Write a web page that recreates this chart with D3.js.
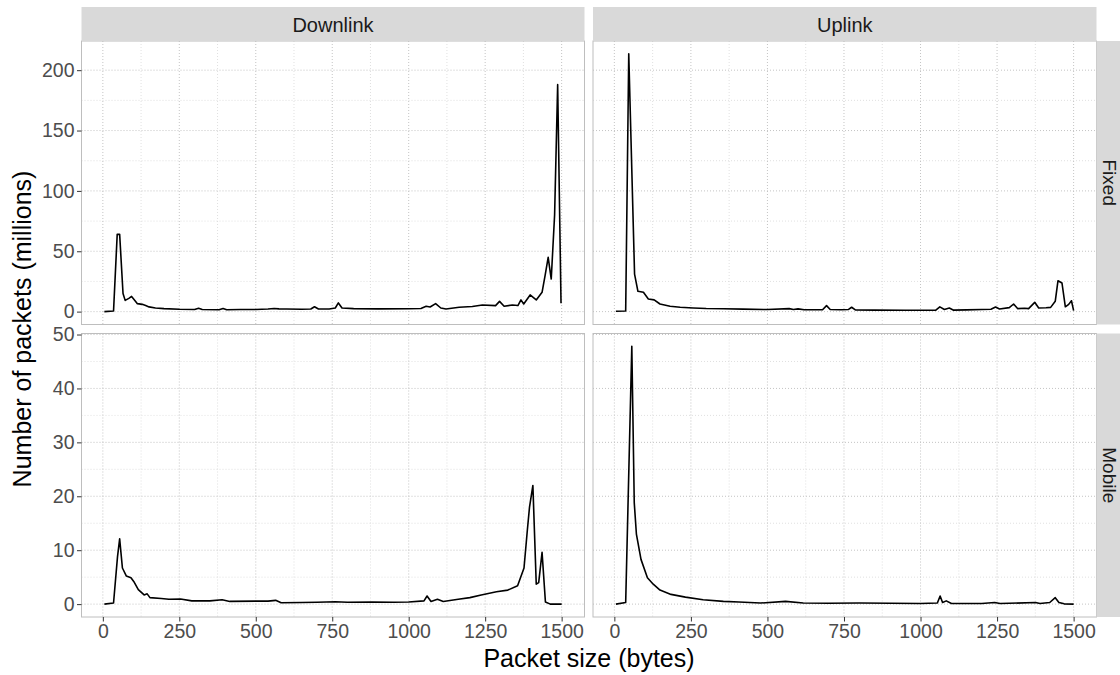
<!DOCTYPE html>
<html><head><meta charset="utf-8">
<script src="https://cdn.jsdelivr.net/npm/d3@7"></script>
<style>
body{margin:0;background:#fff}
text{font-family:"Liberation Sans", Arial, Helvetica, sans-serif}
</style>
</head><body>
<svg id="c" width="1120" height="675"></svg>
<script>
// ---------- data ----------
const directions = ["Downlink", "Uplink"];
const networks = ["Fixed", "Mobile"];
const xTicks = [0, 250, 500, 750, 1000, 1250, 1500];
const yTicksFixed = [0, 50, 100, 150, 200];
const yTicksMobile = [0, 10, 20, 30, 40, 50];
const xTitle = "Packet size (bytes)";
const yTitle = "Number of packets (millions)";

const dlFixedSize = [5,35,47,55,66,73,85,94,104,113,129,140,151,172,200,250,300,313,325,380,393,405,450,500,540,560,576,600,650,680,692,705,740,760,770,782,820,900,1000,1040,1057,1070,1088,1105,1122,1165,1208,1241,1284,1297,1312,1339,1357,1367,1376,1397,1417,1436,1446,1456,1466,1477,1487,1498];
const dlFixedPkts = [0,0.5,64,64,15,9.3,11,12.6,9.5,6.6,6,5,3.9,3,2.5,2,1.8,2.8,1.7,1.6,2.6,1.6,1.7,1.8,2.2,2.6,2.3,2.2,2.0,2.2,4,2.2,2.2,3,7.2,3,2.5,2.3,2.4,2.6,4.4,3.8,6.6,3,2.2,3.6,4.2,5.5,5,8.5,4.4,5.5,5,9.7,6.3,13.8,9.7,16,30,45,27,80,188,6.9];

const ulFixedSize = [5,37,47,66,77,95,111,130,149,182,215,258,300,356,420,500,571,585,600,620,680,693,705,740,765,775,787,850,950,1050,1063,1078,1094,1108,1150,1200,1230,1245,1258,1290,1304,1317,1340,1353,1373,1386,1410,1425,1440,1449,1462,1473,1484,1493,1500];
const ulFixedPkts = [0.3,0.5,213.5,31,16.8,16,10.5,9.7,6.3,4.4,3.6,3,2.6,2.4,2.1,1.7,2.5,1.8,2.3,1.5,1.6,5,1.8,1.6,1.8,3.6,1.4,1.2,1.1,1.2,3.9,1.8,3,1.2,1.4,1.8,2.0,3.8,2.2,3.3,6.3,2.5,2.8,2.5,7.7,3,3.2,3.5,8.5,25.6,23.7,4,6,9,0.8];

const dlMobileSize = [5,35,48,55,64,77,92,101,116,135,145,154,191,216,254,291,350,390,415,500,540,565,583,650,700,760,800,880,950,1000,1050,1060,1073,1094,1113,1162,1200,1237,1287,1324,1356,1377,1388,1395,1406,1417,1425,1436,1447,1463,1500];
const dlMobilePkts = [0,0.2,8.8,12.1,6.7,5.2,4.9,4.2,2.7,1.7,1.9,1.2,1.05,0.9,0.95,0.6,0.6,0.8,0.5,0.55,0.55,0.7,0.25,0.3,0.35,0.45,0.35,0.4,0.35,0.4,0.6,1.5,0.5,0.9,0.5,0.9,1.2,1.7,2.3,2.6,3.4,6.7,13.8,18,22,3.7,4,9.6,0.4,0,0];

const ulMobileSize = [5,37,57,65,72,87,108,127,149,185,232,290,356,407,477,559,617,700,800,900,1000,1055,1064,1072,1084,1101,1200,1242,1260,1376,1390,1422,1440,1452,1469,1500];
const ulMobilePkts = [0,0.3,47.8,18.8,13,8.3,4.9,3.7,2.6,1.8,1.3,0.8,0.5,0.4,0.2,0.5,0.2,0.15,0.2,0.15,0.1,0.2,1.5,0.3,0.6,0.1,0.1,0.3,0.1,0.3,0.1,0.3,1.2,0.3,0.05,0];

// ---------- assembling ----------
const series = {
  "Downlink|Fixed": d3.zip(dlFixedSize, dlFixedPkts),
  "Uplink|Fixed": d3.zip(ulFixedSize, ulFixedPkts),
  "Downlink|Mobile": d3.zip(dlMobileSize, dlMobilePkts),
  "Uplink|Mobile": d3.zip(ulMobileSize, ulMobilePkts)
};
const yTicksByRow = {Fixed: yTicksFixed, Mobile: yTicksMobile};

// ---------- layout ----------
const colPx = [[81.5, 584.5], [593, 1096.5]];
const rowPx = [[41, 324.5], [333.5, 617]];
const stripTop = 7;
const stripRightW = 36;
const tickLen = 4.5;
const fmt = d3.format("d");

const svg = d3.select("#c");
svg.append("rect").attr("width",1120).attr("height",675).attr("fill","#fff");

function expand(ext){ const p = (ext[1]-ext[0])*0.05; return [ext[0]-p, ext[1]+p]; }

const allX = Object.values(series).flat().map(d=>d[0]);
const xDom = expand(d3.extent(allX));

const yDomByRow = {};
networks.forEach(n=>{
  const vals = directions.flatMap(dir=>series[dir+"|"+n].map(d=>d[1]));
  yDomByRow[n] = expand([Math.min(0,d3.min(vals)), d3.max(vals)]);
});

function minors(ticks, dom){
  const out=[]; const step = ticks[1]-ticks[0];
  for(let v = ticks[0]-step/2; v <= ticks[ticks.length-1]+step/2+1e-9; v += step){
    if(v>=dom[0] && v<=dom[1] && !ticks.includes(v)) out.push(v);
  }
  return out;
}

const gridMajor = "#BDBDBD", gridMinor = "#D3D3D3";

networks.forEach((net, ri)=>{
  directions.forEach((dir, ci)=>{
    const [x0,x1] = colPx[ci], [y0,y1] = rowPx[ri];
    const x = d3.scaleLinear().domain(xDom).range([x0,x1]);
    const y = d3.scaleLinear().domain(yDomByRow[net]).range([y1,y0]);
    const g = svg.append("g");
    g.append("rect").attr("x",x0).attr("y",y0).attr("width",x1-x0).attr("height",y1-y0).attr("fill","#fff");
    const yt = yTicksByRow[net].filter(v=>v>=y.domain()[0] && v<=y.domain()[1]);
    // minor grid
    minors(xTicks, xDom).forEach(v=>{
      g.append("line").attr("x1",x(v)).attr("x2",x(v)).attr("y1",y0).attr("y2",y1)
        .attr("stroke",gridMinor).attr("stroke-width",0.7).attr("stroke-dasharray","1,2");
    });
    minors(yTicksByRow[net], y.domain()).forEach(v=>{
      g.append("line").attr("x1",x0).attr("x2",x1).attr("y1",y(v)).attr("y2",y(v))
        .attr("stroke",gridMinor).attr("stroke-width",0.7).attr("stroke-dasharray","1,2");
    });
    // major grid
    xTicks.forEach(v=>{
      g.append("line").attr("x1",x(v)).attr("x2",x(v)).attr("y1",y0).attr("y2",y1)
        .attr("stroke",gridMajor).attr("stroke-width",0.9).attr("stroke-dasharray","1,2");
    });
    yt.forEach(v=>{
      g.append("line").attr("x1",x0).attr("x2",x1).attr("y1",y(v)).attr("y2",y(v))
        .attr("stroke",gridMajor).attr("stroke-width",0.9).attr("stroke-dasharray","1,2");
    });
    // line
    g.append("path").datum(series[dir+"|"+net])
      .attr("d", d3.line().x(d=>x(d[0])).y(d=>y(d[1])))
      .attr("fill","none").attr("stroke","#000").attr("stroke-width",1.6).attr("stroke-linejoin","round");
    // border
    g.append("rect").attr("x",x0).attr("y",y0).attr("width",x1-x0).attr("height",y1-y0)
      .attr("fill","none").attr("stroke","#BEBEBE").attr("stroke-width",1);

    // left axis
    if(ci===0){
      const ax = svg.append("g").attr("transform",`translate(${x0},0)`)
        .call(d3.axisLeft(y).tickValues(yt).tickFormat(fmt).tickSize(tickLen).tickPadding(2.5));
      ax.select(".domain").remove();
      ax.selectAll(".tick line").attr("stroke","#333").attr("stroke-width",1);
      ax.selectAll(".tick text").attr("fill","#4D4D4D").style("font-size","19.5px")
        .style("font-family",'"Liberation Sans", Arial, sans-serif');
    }
    // bottom axis
    if(ri===networks.length-1){
      const ax = svg.append("g").attr("transform",`translate(0,${y1})`)
        .call(d3.axisBottom(x).tickValues(xTicks).tickFormat(fmt).tickSize(tickLen).tickPadding(3));
      ax.select(".domain").remove();
      ax.selectAll(".tick line").attr("stroke","#333").attr("stroke-width",1);
      ax.selectAll(".tick text").attr("fill","#4D4D4D").style("font-size","19.5px")
        .style("font-family",'"Liberation Sans", Arial, sans-serif');
    }
  });
});

// top strips
directions.forEach((dir, ci)=>{
  const [x0,x1] = colPx[ci];
  svg.append("rect").attr("x",x0).attr("y",stripTop).attr("width",x1-x0).attr("height",rowPx[0][0]-stripTop).attr("fill","#D9D9D9");
  svg.append("text").attr("x",(x0+x1)/2).attr("y",31.5).attr("text-anchor","middle")
    .attr("fill","#1A1A1A").style("font-size","20px").text(dir);
});
// right strips
networks.forEach((net, ri)=>{
  const [y0,y1] = rowPx[ri];
  const sx = colPx[1][1];
  svg.append("rect").attr("x",sx).attr("y",y0).attr("width",stripRightW).attr("height",y1-y0).attr("fill","#D9D9D9");
  svg.append("text").attr("transform",`translate(${sx+6},${(y0+y1)/2}) rotate(90)`)
    .attr("text-anchor","middle").attr("fill","#1A1A1A").style("font-size","19px").text(net);
});

// axis titles
svg.append("text").attr("x",(colPx[0][0]+colPx[1][1])/2).attr("y",666.5).attr("text-anchor","middle")
  .attr("fill","#000").style("font-size","25px").text(xTitle);
svg.append("text").attr("transform",`translate(31,${(rowPx[0][0]+rowPx[1][1])/2}) rotate(-90)`)
  .attr("text-anchor","middle").attr("fill","#000").style("font-size","25px").text(yTitle);
</script>
</body></html>
